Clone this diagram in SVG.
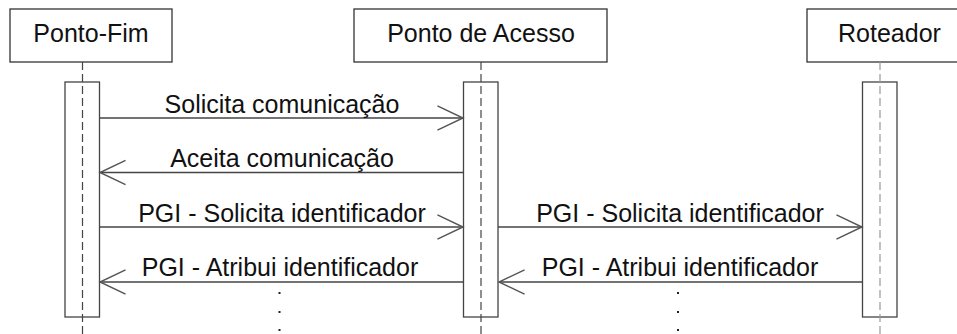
<svg xmlns="http://www.w3.org/2000/svg" width="957" height="334" viewBox="0 0 957 334">
<style>
  .head{fill:#fff;stroke:#333;stroke-width:1.3}
  .act{fill:#fff;stroke:#444;stroke-width:1.3}
  .life{stroke:#444;stroke-width:1.2;stroke-dasharray:8 4;fill:none}
  .life2{stroke:#999;stroke-width:1.2;stroke-dasharray:8 4;fill:none}
  .t{font-family:"Liberation Sans",Arial,sans-serif;font-size:25px;fill:#111;text-anchor:middle}
  .msg{stroke:#444;stroke-width:1.3;fill:none;marker-end:url(#arr)}
  .dot{fill:#222}
</style>
<defs>
  <marker id="arr" markerUnits="userSpaceOnUse" markerWidth="30" markerHeight="30" viewBox="-25 -13 27 26" refX="0" refY="0" orient="auto" overflow="visible">
    <path d="M-23,-11 L0,0 L-23,11" fill="none" stroke="#555" stroke-width="1.3"/>
  </marker>
</defs>
<rect width="957" height="334" fill="#fff"/>
<g id="ponto-fim">
  <rect class="head" x="10" y="9" width="162" height="53"/>
  <text class="t" x="91" y="42">Ponto-Fim</text>
  <rect class="act" x="65" y="82" width="34.5" height="235"/>
  <line class="life" x1="82.5" y1="62" x2="82.5" y2="334"/>
</g>
<g id="ponto-de-acesso">
  <rect class="head" x="354" y="9" width="253" height="53"/>
  <text class="t" x="481" y="42">Ponto de Acesso</text>
  <rect class="act" x="463.5" y="82" width="34.5" height="235"/>
  <line class="life" x1="481" y1="62" x2="481" y2="334"/>
</g>
<g id="roteador">
  <rect class="head" x="807" y="9" width="165" height="53"/>
  <text class="t" x="889.5" y="42">Roteador</text>
  <rect class="act" x="862.5" y="82" width="34.5" height="235"/>
  <line class="life2" x1="880" y1="62" x2="880" y2="334"/>
</g>
<g id="connectors">
  <line class="msg" x1="99.5" y1="118" x2="463" y2="118"/>
  <text class="t" x="282" y="113">Solicita comunicação</text>
  <line class="msg" x1="463.5" y1="172.5" x2="100" y2="172.5"/>
  <text class="t" x="282" y="167">Aceita comunicação</text>
  <line class="msg" x1="99.5" y1="227" x2="463" y2="227"/>
  <text class="t" x="282" y="222">PGI - Solicita identificador</text>
  <line class="msg" x1="463.5" y1="282" x2="100" y2="282"/>
  <text class="t" x="280" y="276">PGI - Atribui identificador</text>
  <line class="msg" x1="498" y1="227" x2="862" y2="227"/>
  <text class="t" x="680" y="222">PGI - Solicita identificador</text>
  <line class="msg" x1="862.5" y1="282" x2="499" y2="282"/>
  <text class="t" x="680" y="276">PGI - Atribui identificador</text>
  <rect class="dot" x="278.5" y="292" width="2" height="2"/>
  <rect class="dot" x="278.5" y="311" width="2" height="2"/>
  <rect class="dot" x="278.5" y="329" width="2" height="2"/>
  <rect class="dot" x="677" y="292" width="2" height="2"/>
  <rect class="dot" x="677" y="311" width="2" height="2"/>
  <rect class="dot" x="677" y="329" width="2" height="2"/>
</g>
</svg>
